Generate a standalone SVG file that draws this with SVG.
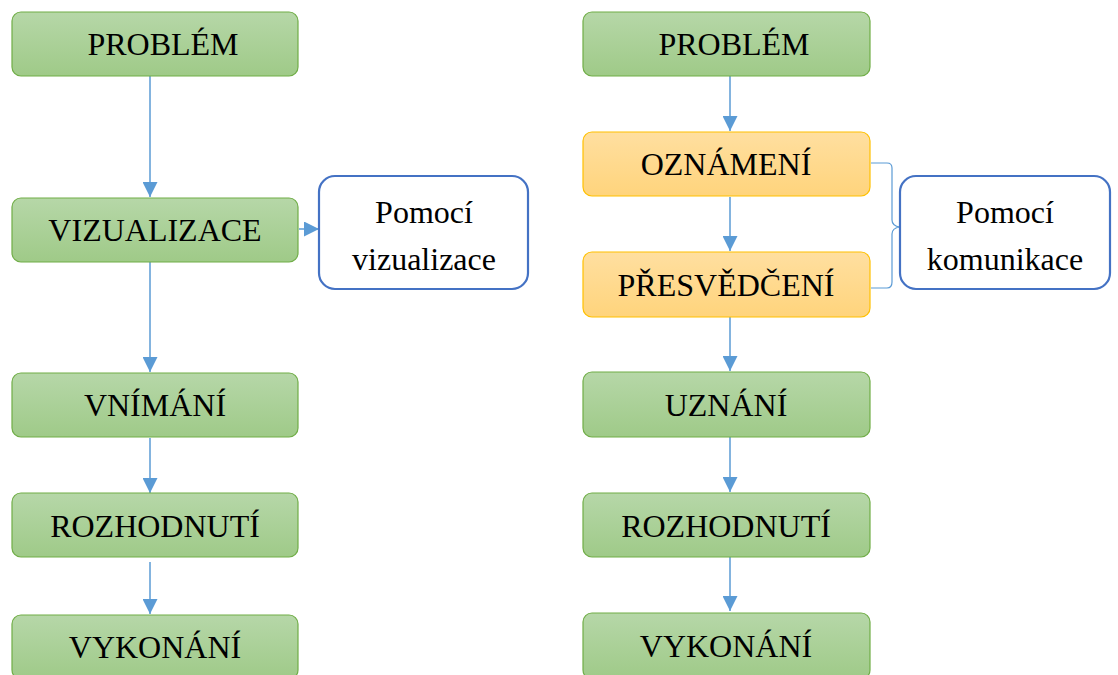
<svg xmlns="http://www.w3.org/2000/svg" width="1118" height="675" viewBox="0 0 1118 675">
  <defs>
    <linearGradient id="gGreen" x1="0" y1="0" x2="0" y2="1">
      <stop offset="0" stop-color="#B6D7A8"/>
      <stop offset="1" stop-color="#9FCA88"/>
    </linearGradient>
    <linearGradient id="gOrange" x1="0" y1="0" x2="0" y2="1">
      <stop offset="0" stop-color="#FFDFA0"/>
      <stop offset="1" stop-color="#FFD47C"/>
    </linearGradient>
    <marker id="arrow" viewBox="0 0 10 10" refX="10" refY="5" markerWidth="15" markerHeight="15" markerUnits="userSpaceOnUse" orient="auto">
      <path d="M0,0 L10,5 L0,10 Z" fill="#5B9BD5"/>
    </marker>
  </defs>
  <style>
    .green { fill: url(#gGreen); stroke: #70AD47; stroke-width: 1.2; }
    .orange { fill: url(#gOrange); stroke: #FFC000; stroke-width: 1.2; }
    .note { fill: #FFFFFF; stroke: #4472C4; stroke-width: 2.2; }
    .lbl { font-family: "Liberation Serif", "Times New Roman", serif; font-size: 32px; fill: #000000; text-anchor: middle; }
    .conn { stroke: #5B9BD5; stroke-width: 1.5; fill: none; }
    .brace { stroke: #5B9BD5; stroke-width: 1.2; fill: none; }
  </style>

  <!-- connectors -->
  <g id="connectors">
    <line class="conn" x1="150" y1="76" x2="150" y2="197" marker-end="url(#arrow)"/>
    <line class="conn" x1="150" y1="262" x2="150" y2="372" marker-end="url(#arrow)"/>
    <line class="conn" x1="150" y1="438" x2="150" y2="493" marker-end="url(#arrow)"/>
    <line class="conn" x1="150" y1="562" x2="150" y2="614" marker-end="url(#arrow)"/>
    <line class="conn" x1="299" y1="229" x2="319" y2="229" marker-end="url(#arrow)"/>

    <line class="conn" x1="730" y1="76" x2="730" y2="131" marker-end="url(#arrow)"/>
    <line class="conn" x1="730" y1="197" x2="730" y2="251" marker-end="url(#arrow)"/>
    <line class="conn" x1="730" y1="317" x2="730" y2="371" marker-end="url(#arrow)"/>
    <line class="conn" x1="730" y1="437" x2="730" y2="492" marker-end="url(#arrow)"/>
    <line class="conn" x1="730" y1="557" x2="730" y2="611" marker-end="url(#arrow)"/>

    <!-- brace grouping the two communication steps -->
    <path class="brace" d="M871,163 L887,163 Q892,163 892,168 L892,220 Q892,226 900,227 Q892,228 892,234 L892,282 Q892,288 887,288 L871,288"/>
  </g>

  <!-- left column -->
  <g id="l-problem">
    <rect class="green" x="12" y="12" width="286" height="64" rx="9"/>
    <text class="lbl" x="163" y="55">PROBLÉM</text>
  </g>
  <g id="l-vizualizace">
    <rect class="green" x="12" y="198" width="286" height="64" rx="9"/>
    <text class="lbl" x="155" y="241">VIZUALIZACE</text>
  </g>
  <g id="l-pomoci-vizualizace">
    <rect class="note" x="319" y="176" width="209" height="113" rx="16"/>
    <text class="lbl" x="424" y="223">Pomocí</text>
    <text class="lbl" x="424" y="270">vizualizace</text>
  </g>
  <g id="l-vnimani">
    <rect class="green" x="12" y="373" width="286" height="64" rx="9"/>
    <text class="lbl" x="155" y="416">VNÍMÁNÍ</text>
  </g>
  <g id="l-rozhodnuti">
    <rect class="green" x="12" y="493" width="286" height="64" rx="9"/>
    <text class="lbl" x="155" y="537">ROZHODNUTÍ</text>
  </g>
  <g id="l-vykonani">
    <rect class="green" x="12" y="615" width="286" height="64" rx="9"/>
    <text class="lbl" x="155" y="658">VYKONÁNÍ</text>
  </g>

  <!-- right column -->
  <g id="r-problem">
    <rect class="green" x="583" y="12" width="287" height="64" rx="9"/>
    <text class="lbl" x="734" y="55">PROBLÉM</text>
  </g>
  <g id="r-oznameni">
    <rect class="orange" x="583" y="132" width="287" height="64" rx="9"/>
    <text class="lbl" x="726" y="175">OZNÁMENÍ</text>
  </g>
  <g id="r-presvedceni">
    <rect class="orange" x="583" y="252" width="287" height="65" rx="9"/>
    <text class="lbl" x="726" y="296">PŘESVĚDČENÍ</text>
  </g>
  <g id="r-pomoci-komunikace">
    <rect class="note" x="900" y="176" width="210" height="113" rx="16"/>
    <text class="lbl" x="1005" y="223">Pomocí</text>
    <text class="lbl" x="1005" y="270">komunikace</text>
  </g>
  <g id="r-uznani">
    <rect class="green" x="583" y="372" width="287" height="65" rx="9"/>
    <text class="lbl" x="726" y="416">UZNÁNÍ</text>
  </g>
  <g id="r-rozhodnuti">
    <rect class="green" x="583" y="493" width="287" height="64" rx="9"/>
    <text class="lbl" x="726" y="537">ROZHODNUTÍ</text>
  </g>
  <g id="r-vykonani">
    <rect class="green" x="583" y="613" width="287" height="66" rx="9"/>
    <text class="lbl" x="726" y="657">VYKONÁNÍ</text>
  </g>
</svg>
